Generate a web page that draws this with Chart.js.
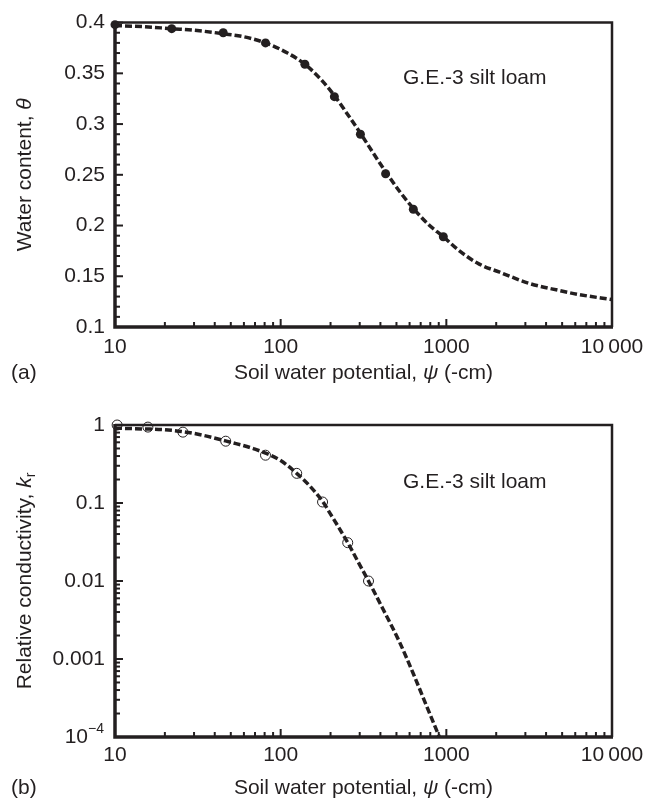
<!DOCTYPE html>
<html><head><meta charset="utf-8">
<script src="https://cdn.jsdelivr.net/npm/chart.js@4/dist/chart.umd.min.js"></script>
<style>
html,body{margin:0;padding:0;background:#fff;}
body{width:656px;height:802px;overflow:hidden;position:relative;}
.box{position:absolute;left:0;width:656px;}
canvas{display:block;}
</style></head>
<body>
<div class="box" style="top:0;height:400px"><canvas id="c1" width="656" height="400"></canvas></div>
<div class="box" style="top:400px;height:402px"><canvas id="c2" width="656" height="402"></canvas></div>
<script>
// ---------- data ----------
const psiTicks = [10, 100, 1000, 10000];
const psiTickLabels = ['10', '100', '1000', '10\u2009000'];

const thetaTicks = [0.1, 0.15, 0.2, 0.25, 0.3, 0.35, 0.4];
const thetaTickLabels = ['0.1', '0.15', '0.2', '0.25', '0.3', '0.35', '0.4'];

const krTicks = [0.0001, 0.001, 0.01, 0.1, 1];
const krTickLabels = ['10^\u22124', '0.001', '0.01', '0.1', '1'];

// measured water content (filled circles)
const thetaPsi = [10, 22, 45, 81, 140, 211, 303, 430, 632, 959];
const thetaObs = [0.398, 0.394, 0.390, 0.380, 0.359, 0.327, 0.290, 0.251, 0.216, 0.189];
// fitted water retention curve (dashed)
const thetaFitPsi = [10, 15, 22, 30, 45, 60, 81, 110, 140, 175, 211, 250, 303, 360, 430, 520, 632, 780, 959, 1200, 1580, 2100, 3160, 4800, 6300, 10000];
const thetaFit = [0.397, 0.396, 0.394, 0.3925, 0.389, 0.386, 0.380, 0.370, 0.359, 0.344, 0.328, 0.311, 0.291, 0.272, 0.253, 0.234, 0.217, 0.201, 0.189, 0.175, 0.162, 0.154, 0.143, 0.136, 0.132, 0.127];

// measured relative conductivity (open circles)
const krPsi = [10.3, 15.8, 25.7, 46.6, 81, 125, 179, 254, 339];
const krObs = [1.0, 0.94, 0.81, 0.62, 0.41, 0.24, 0.103, 0.031, 0.0100];
// fitted relative conductivity curve (dashed)
const krFitPsi = [10, 15, 20, 30, 50, 70, 100, 125, 150, 179, 200, 254, 300, 339, 410, 521, 641, 759, 908];
const krFit = [0.91, 0.89, 0.87, 0.78, 0.60, 0.49, 0.35, 0.24, 0.165, 0.105, 0.072, 0.031, 0.0161, 0.0100, 0.00457, 0.00166, 0.000603, 0.000251, 0.0001];

// ---------- helpers ----------
const INK = '#231f20';
const FAMILY = '"Liberation Sans", Arial, Helvetica, sans-serif';
const FS = 21;
const font = (size, italic) => (italic ? 'italic ' : '') + size + 'px ' + FAMILY;
const pts = (xs, ys) => xs.map((x, i) => ({x: x, y: ys[i]}));

function drawRich(ctx, parts, x, y, align, rotate) {
  ctx.save();
  ctx.translate(x, y);
  if (rotate) ctx.rotate(-Math.PI / 2);
  ctx.fillStyle = INK;
  ctx.textBaseline = 'middle';
  ctx.textAlign = 'left';
  const items = parts.map(p => {
    const size = p.sub || p.sup ? Math.round(FS * 0.66) : FS;
    ctx.font = font(size, p.italic);
    return {p, size, w: ctx.measureText(p.t).width};
  });
  const total = items.reduce((s, it) => s + it.w, 0);
  let cx = align === 'center' ? -total / 2 : align === 'right' ? -total : 0;
  items.forEach(it => {
    ctx.font = font(it.size, it.p.italic);
    const dy = it.p.sub ? 6 : it.p.sup ? -8 : 0;
    ctx.fillText(it.p.t, cx, dy);
    cx += it.w;
  });
  ctx.restore();
}

function logTicks(min, max) {
  const out = [];
  for (let d = min; d < max * 0.999; d *= 10) {
    for (let m = 1; m <= 9; m++) out.push({v: d * m, major: m === 1});
  }
  out.push({v: max, major: true});
  return out;
}
function linTicks(min, max, step, every) {
  const out = [];
  const n = Math.round((max - min) / step);
  for (let i = 0; i <= n; i++) out.push({v: min + i * step, major: i % every === 0});
  return out;
}

const framePlugin = {
  id: 'frameTicks',
  beforeDatasetsDraw(chart, args, o) {
    const {ctx, chartArea: a, scales: {x, y}} = chart;
    ctx.save();
    ctx.strokeStyle = INK;
    ctx.lineCap = 'butt';
    ctx.lineWidth = 2;
    o.xt.forEach(t => {
      const px = x.getPixelForValue(t.v);
      ctx.beginPath(); ctx.moveTo(px, a.bottom); ctx.lineTo(px, a.bottom - (t.major ? 8 : 5)); ctx.stroke();
    });
    o.yt.forEach(t => {
      const py = y.getPixelForValue(t.v);
      ctx.beginPath(); ctx.moveTo(a.left, py); ctx.lineTo(a.left + (t.major ? 8 : 5), py); ctx.stroke();
    });
    // top & right (thin)
    ctx.lineWidth = 2.5;
    ctx.beginPath(); ctx.moveTo(a.left, a.top); ctx.lineTo(a.right, a.top); ctx.lineTo(a.right, a.bottom); ctx.stroke();
    // left & bottom (thick)
    ctx.lineWidth = 3.5;
    ctx.beginPath(); ctx.moveTo(a.left, a.top - 1); ctx.lineTo(a.left, a.bottom); ctx.lineTo(a.right + 1, a.bottom); ctx.stroke();
    ctx.restore();
  },
  afterDraw(chart, args, o) {
    const {ctx, chartArea: a, scales: {y}} = chart;
    const cx = (a.left + a.right) / 2, cy = (a.top + a.bottom) / 2;
    drawRich(ctx, [{t: 'Soil water potential, '}, {t: '\u03c8', italic: true}, {t: ' (-cm)'}], cx, o.xTitleY, 'center');
    drawRich(ctx, o.yTitle, 25, cy, 'center', true);
    drawRich(ctx, [{t: o.panel}], 11, o.xTitleY, 'left');
    drawRich(ctx, [{t: 'G.E.-3 silt loam'}], a.left + 288, a.top + o.noteDy, 'left');
    (o.supLabels || []).forEach(s => {
      const [base, exp] = s.label.split('^');
      drawRich(ctx, [{t: base}, {t: exp, sup: true}], a.left - 11, y.getPixelForValue(s.v), 'right');
    });
  }
};

function makeChart(id, cfg) {
  return new Chart(document.getElementById(id), {
    type: 'scatter',
    data: {datasets: [
      {data: cfg.fit, showLine: true, borderColor: INK, borderWidth: 3.5, borderDash: [7, 3],
       pointRadius: 0, cubicInterpolationMode: 'monotone', fill: false, order: 2},
      {data: cfg.obs, showLine: false, pointRadius: cfg.r, pointHoverRadius: cfg.r,
       pointBackgroundColor: cfg.pfill, pointBorderColor: INK, pointBorderWidth: cfg.pbw,
       clip: false, order: 1}
    ]},
    options: {
      responsive: false, animation: false, devicePixelRatio: 1,
      layout: {padding: {left: 0, top: cfg.top, right: 44, bottom: 0}},
      plugins: {legend: {display: false}, tooltip: {enabled: false},
        frameTicks: cfg.plug},
      scales: {
        x: {type: 'logarithmic', min: 10, max: 10000,
          grid: {display: false, drawTicks: false, tickLength: 0}, border: {display: false},
          afterBuildTicks: s => { s.ticks = psiTicks.map(v => ({value: v})); },
          afterFit: s => { s.height = cfg.xh; },
          ticks: {autoSkip: false, maxRotation: 0, padding: cfg.xpad, color: INK,
            font: {family: FAMILY, size: FS},
            callback: v => { const i = psiTicks.indexOf(v); return i >= 0 ? psiTickLabels[i] : ''; }}
        },
        y: cfg.y
      }
    },
    plugins: [framePlugin]
  });
}

// ---------- chart (a) ----------
makeChart('c1', {
  fit: pts(thetaFitPsi, thetaFit), obs: pts(thetaPsi, thetaObs),
  r: 4.5, pfill: INK, pbw: 0, top: 17, xh: 73, xpad: 8,
  y: {type: 'linear', min: 0.1, max: 0.4,
    grid: {display: false, drawTicks: false, tickLength: 0}, border: {display: false},
    afterBuildTicks: s => { s.ticks = thetaTicks.map(v => ({value: v})); },
    afterFit: s => { s.width = 115; },
    ticks: {padding: 10, color: INK, font: {family: FAMILY, size: FS},
      callback: v => { const i = thetaTicks.findIndex(t => Math.abs(t - v) < 1e-9); return i >= 0 ? thetaTickLabels[i] : ''; }}
  },
  plug: {
    xt: logTicks(10, 10000), yt: linTicks(0.1, 0.4, 0.01, 5),
    xTitleY: 373, panel: '(a)', noteDy: 56,
    yTitle: [{t: 'Water content, '}, {t: '\u03b8', italic: true}]
  }
});

// ---------- chart (b) ----------
makeChart('c2', {
  fit: pts(krFitPsi, krFit), obs: pts(krPsi, krObs),
  r: 5, pfill: 'rgba(0,0,0,0)', pbw: 1, top: 25, xh: 65, xpad: 6,
  y: {type: 'logarithmic', min: 0.0001, max: 1,
    grid: {display: false, drawTicks: false, tickLength: 0}, border: {display: false},
    afterBuildTicks: s => { s.ticks = krTicks.map(v => ({value: v})); },
    afterFit: s => { s.width = 115; },
    ticks: {padding: 10, color: INK, font: {family: FAMILY, size: FS},
      callback: v => { const i = krTicks.findIndex(t => Math.abs(t - v) / t < 1e-6); if (i < 0) return ''; const l = krTickLabels[i]; return l.indexOf('^') >= 0 ? '' : l; }}
  },
  plug: {
    xt: logTicks(10, 10000), yt: logTicks(0.0001, 1),
    xTitleY: 388, panel: '(b)', noteDy: 57,
    yTitle: [{t: 'Relative conductivity, '}, {t: 'k', italic: true}, {t: 'r', sub: true}],
    supLabels: krTicks.map((v, i) => ({v, label: krTickLabels[i]})).filter(s => s.label.indexOf('^') >= 0)
  }
});
</script>
</body></html>
